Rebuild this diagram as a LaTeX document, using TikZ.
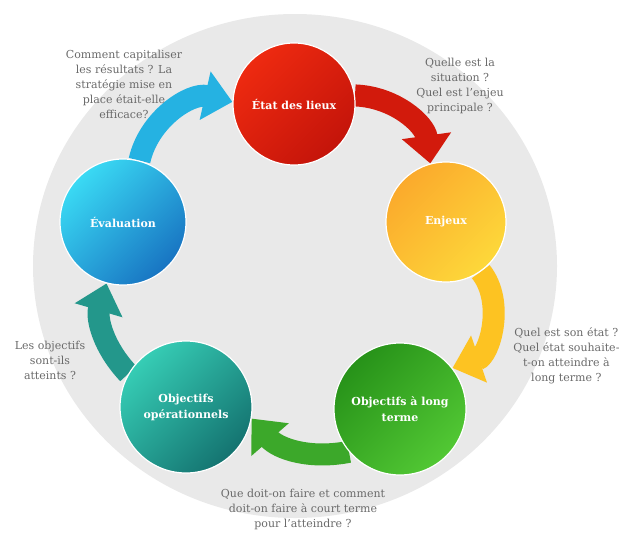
\documentclass[tikz,border=0pt]{standalone}
\usepackage{fontspec}
\setmainfont{DejaVu Serif}
\usetikzlibrary{arrows.meta}

\definecolor{fondgris}{HTML}{E9E9E9}
\definecolor{textegris}{HTML}{6A6A6A}
\definecolor{rougeA}{HTML}{EE2A10}
\definecolor{rougeB}{HTML}{C4140A}
\definecolor{jauneA}{HTML}{FBAA2C}
\definecolor{jauneB}{HTML}{FDD83A}
\definecolor{vertA}{HTML}{279219}
\definecolor{vertB}{HTML}{52C834}
\definecolor{tealA}{HTML}{36CDB5}
\definecolor{tealB}{HTML}{147370}
\definecolor{bleuA}{HTML}{3ADAF4}
\definecolor{bleuB}{HTML}{1874C2}
\definecolor{flecheBleu}{HTML}{25B2E2}
\definecolor{flecheRouge}{HTML}{D21A0C}
\definecolor{flecheJaune}{HTML}{FDC322}
\definecolor{flecheVert}{HTML}{3CA82A}
\definecolor{flecheTeal}{HTML}{23978B}

\pgfdeclarelayer{fond}
\pgfdeclarelayer{fleches}
\pgfsetlayers{fond,fleches,main}

\begin{document}
\begin{tikzpicture}[x=1pt, y=-1pt,
    etape/.style={circle, minimum size=126pt, inner sep=0pt, align=center,
        text=white, font=\fontsize{11}{16}\selectfont\bfseries,
        draw=white, line width=1.2pt},
    degrade/.style 2 args={top color=#1, bottom color=#2, shading angle=45},
    question/.style={align=center, text=textegris,
        font=\fontsize{11}{15}\selectfont},
    cycle/.style={line width=22pt, -{Triangle[length=28pt, width=48pt]}}]

    \useasboundingbox (0,0) rectangle (623,533);

    \node[etape, degrade={rougeA}{rougeB}, minimum size=122pt] (etat) at (294,104) {État des lieux};
    \node[etape, degrade={jauneA}{jauneB}, minimum size=120pt] (enjeux) at (446,222) {Enjeux};
    \node[etape, degrade={vertA}{vertB}, minimum size=132pt] (objlong) at (400,409) {Objectifs à long\\terme};
    \node[etape, degrade={tealA}{tealB}, minimum size=132pt] (objop) at (186,407) {Objectifs\\opérationnels};
    \node[etape, degrade={bleuA}{bleuB}] (eval) at (123,222) {Évaluation};

    \node[question] (q1) at (124,84) {Comment capitaliser\\les résultats ? La\\stratégie mise en\\place était-elle\\efficace?};
    \node[question] (q2) at (460,86) {Quelle est la\\situation ?\\Quel est l'enjeu\\principale ?};
    \node[question, anchor=east] (q3) at (623,356) {Quel est son état ?\\Quel état souhaite-\\t-on atteindre à\\long terme ?};
    \node[question] (q4) at (50,360) {Les objectifs\\sont-ils\\atteints ?};
    \node[question] (q5) at (303,509) {Que doit-on faire et comment\\doit-on faire à court terme\\pour l'atteindre ?};

    \begin{pgfonlayer}{fond}
        \fill[fondgris] (295,266) ellipse [x radius=262pt, y radius=252pt];
    \end{pgfonlayer}

    \begin{pgfonlayer}{fleches}
        \draw[cycle, flecheBleu] (eval.75) to[bend left=45] (etat.178);
        \draw[cycle, flecheRouge] (etat.8) to[bend left=40] (enjeux.105);
        \draw[cycle, flecheJaune] (enjeux.-55) to[bend left=55] (objlong.38);
        \draw[cycle, flecheVert] (objlong.220) to[bend left=30] (objop.-10);
        \draw[cycle, flecheTeal] (objop.150) to[bend left=30] (eval.255);
    \end{pgfonlayer}

\end{tikzpicture}
\end{document}
